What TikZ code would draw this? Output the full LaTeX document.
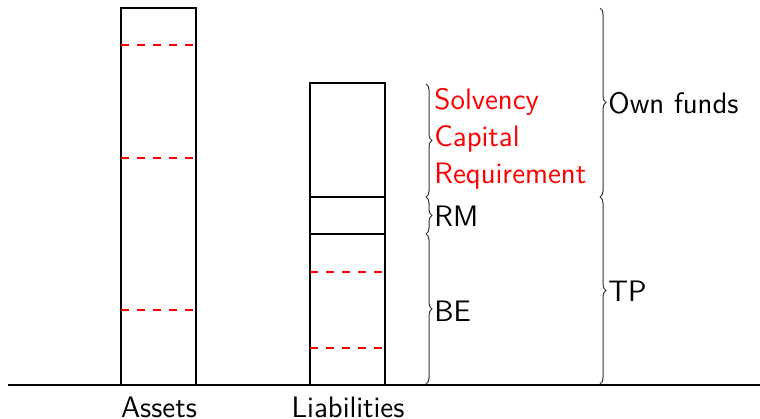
\documentclass[tikz,border=0pt]{standalone}
\usetikzlibrary{decorations.pathreplacing}
\begin{document}
\begin{tikzpicture}[x=0.5pt,y=-0.5pt,
  bar/.style={draw=black,line width=1pt},
  reddash/.style={draw=red,line width=1pt,dash pattern=on 4pt off 4pt},
  brc/.style={draw=black!80,line width=0.5pt,decorate,decoration={brace,amplitude=3pt}},
  lbl/.style={font=\fontsize{14.8}{18.4}\selectfont\sffamily,inner sep=1.5pt},
  every node/.style={lbl}]
\useasboundingbox (0,0) rectangle (760,418);
% ground
\coordinate (g0) at (8,385);
\coordinate (g1) at (760,385);
\draw[line width=1pt] (g0) -- (g1);
% assets
\draw[bar] (121,385) rectangle (196,8);
\draw[reddash] (121,45) -- (196,45);
\draw[reddash] (121,158) -- (196,158);
\draw[reddash] (121,310) -- (196,310);
% liabilities
\draw[bar] (310,385) rectangle (385,83);
\draw[bar] (310,197) -- (385,197);
\draw[bar] (310,234) -- (385,234);
\draw[reddash] (310,272) -- (385,272);
\draw[reddash] (310,348) -- (385,348);
% axis labels
\node[anchor=base] (assets) at (159,417) {Assets};
\node[anchor=base] (liab) at (348,417) {Liabilities};
% inner braces
\draw[brc] (426,84) -- (426,197);
\draw[brc] (426,197) -- (426,234);
\draw[brc] (426,234) -- (426,384);
\node[anchor=west,align=left,text=red] (scr) at (431,139) {Solvency\\Capital\\Requirement};
\node[anchor=west] (rm) at (431,216) {RM};
\node[anchor=west] (be) at (431,311) {BE};
% outer braces
\draw[brc] (600,8) -- (600,197);
\draw[brc] (600,197) -- (600,384);
\node[anchor=west] (of) at (605,103) {Own funds};
\node[anchor=west] (tp) at (605,291) {TP};
\end{tikzpicture}
\end{document}
